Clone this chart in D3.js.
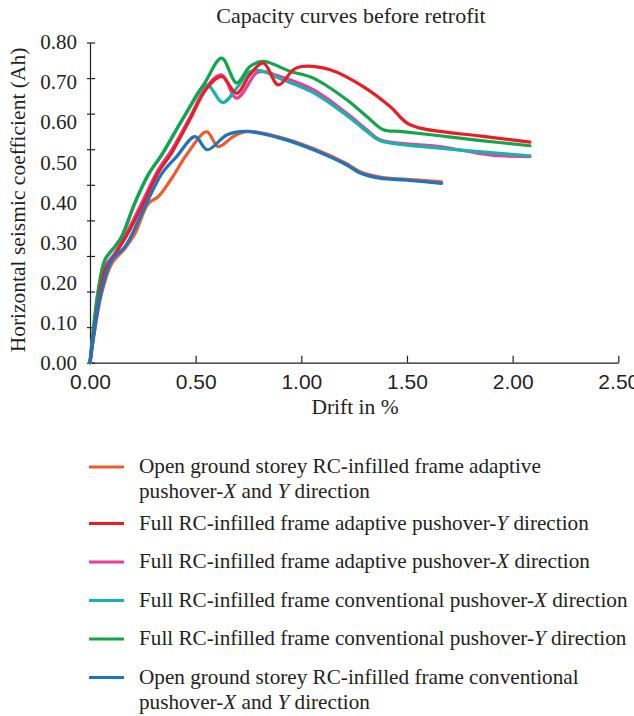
<!DOCTYPE html>
<html>
<head>
<meta charset="utf-8">
<script src="https://cdn.jsdelivr.net/npm/d3@7"></script>
<style>
  body { margin: 0; background: #fff; }
  svg { display: block; font-family: "Liberation Serif", "DejaVu Serif", serif; fill: #231f20; }
  .axis path, .axis line { stroke: #231f20; stroke-width: 1.2; }
  .curve { fill: none; stroke-width: 3.2; stroke-linecap: round; stroke-linejoin: round; }
</style>
</head>
<body>
<svg width="634" height="716"></svg>
<script>
// capacity curves, [drift %, Ah]

var openAdaptive = [
  [0, 0], [0.055, 0.173], [0.103, 0.248], [0.166, 0.286], [0.213, 0.323], [0.276, 0.398],
  [0.323, 0.415], [0.387, 0.461], [0.458, 0.52], [0.552, 0.577], [0.607, 0.54], [0.678, 0.565],
  [0.742, 0.578], [0.899, 0.563], [1.057, 0.535], [1.215, 0.497], [1.278, 0.477], [1.372, 0.464],
  [1.5, 0.458], [1.664, 0.452]
];
var fullAdaptiveY = [
  [0, 0], [0.039, 0.15], [0.071, 0.232], [0.118, 0.27], [0.181, 0.325], [0.245, 0.39],
  [0.323, 0.475], [0.387, 0.525], [0.47, 0.605], [0.552, 0.685], [0.623, 0.715], [0.694, 0.673],
  [0.757, 0.72], [0.82, 0.749], [0.891, 0.694], [0.962, 0.732], [1.0, 0.74], [1.136, 0.732],
  [1.293, 0.69], [1.42, 0.64], [1.499, 0.599], [1.562, 0.586], [1.656, 0.578], [1.85, 0.566],
  [2.082, 0.551]
];
var fullAdaptiveX = [
  [0, 0], [0.039, 0.157], [0.071, 0.24], [0.118, 0.274], [0.181, 0.332], [0.245, 0.399],
  [0.323, 0.482], [0.387, 0.532], [0.47, 0.61], [0.552, 0.69], [0.623, 0.719], [0.694, 0.661],
  [0.789, 0.725], [0.82, 0.727], [0.899, 0.715], [1.057, 0.682], [1.215, 0.623], [1.31, 0.582],
  [1.372, 0.557], [1.656, 0.54], [1.893, 0.519], [2.082, 0.515]
];
var fullConvX = [
  [0, 0], [0.039, 0.18], [0.071, 0.257], [0.118, 0.29], [0.15, 0.315], [0.213, 0.4],
  [0.276, 0.47], [0.34, 0.52], [0.44, 0.61], [0.552, 0.694], [0.628, 0.65], [0.7, 0.69],
  [0.757, 0.727], [0.805, 0.73], [0.899, 0.71], [1.057, 0.675], [1.215, 0.618], [1.31, 0.578],
  [1.372, 0.555], [1.656, 0.536], [1.893, 0.525], [2.082, 0.517]
];
var fullConvY = [
  [0, 0], [0.039, 0.18], [0.071, 0.257], [0.118, 0.29], [0.15, 0.315], [0.213, 0.4],
  [0.276, 0.47], [0.34, 0.52], [0.44, 0.61], [0.544, 0.7], [0.623, 0.761], [0.694, 0.699],
  [0.757, 0.74], [0.82, 0.753], [0.946, 0.728], [1.057, 0.711], [1.215, 0.657], [1.31, 0.615],
  [1.388, 0.582], [1.467, 0.578], [1.656, 0.567], [1.85, 0.555], [2.082, 0.542]
];
var openConv = [
  [0, 0], [0.055, 0.182], [0.103, 0.257], [0.166, 0.29], [0.26, 0.39], [0.339, 0.472],
  [0.41, 0.515], [0.497, 0.565], [0.555, 0.532], [0.647, 0.569], [0.733, 0.578], [0.899, 0.561],
  [1.057, 0.532], [1.215, 0.494], [1.278, 0.474], [1.372, 0.461], [1.5, 0.456], [1.664, 0.448]
];

// legend order; *X* marks italic, | marks a line break
var seriesNames = [
  "Open ground storey RC-infilled frame adaptive|pushover-*X* and *Y* direction",
  "Full RC-infilled frame adaptive pushover-*Y* direction",
  "Full RC-infilled frame adaptive pushover-*X* direction",
  "Full RC-infilled frame conventional pushover-*X* direction",
  "Full RC-infilled frame conventional pushover-*Y* direction",
  "Open ground storey RC-infilled frame conventional|pushover-*X* and *Y* direction"
];
var seriesData = [openAdaptive, fullAdaptiveY, fullAdaptiveX, fullConvX, fullConvY, openConv];
var seriesColors = ["#f15a29", "#ed1c24", "#e8409a", "#17b3ae", "#12a64b", "#1b75c0"];
var drawOrder = [0, 2, 3, 4, 1, 5];

var xTicks = [0, 0.5, 1, 1.5, 2, 2.5];
var yTicks = [0, 0.1, 0.2, 0.3, 0.4, 0.5, 0.6, 0.7, 0.8];

var svg = d3.select("svg");
var fmt = d3.format(".2f");

var x = d3.scaleLinear().domain([0, 2.5]).range([90, 618.3]);
var y = d3.scaleLinear().domain([0, 0.8]).range([362.7, 42.5]);
// the printed y tick marks are spaced in 9 steps, not 8
var yMarks = d3.scaleLinear().domain([0, 9]).range([362.7, 42.5]);

// title
svg.append("text")
  .attr("x", 351).attr("y", 23)
  .attr("text-anchor", "middle")
  .style("font-size", "22px")
  .text("Capacity curves before retrofit");

// x axis
var xAxis = svg.append("g")
  .attr("class", "axis")
  .attr("transform", "translate(0," + y(0) + ")")
  .call(d3.axisBottom(x).tickValues(xTicks).tickSizeInner(-7).tickSizeOuter(0)
    .tickPadding(11).tickFormat(fmt));
xAxis.selectAll("text").style("font-size", "21px").attr("fill", "#231f20")
  .attr("font-family", null);

// y axis: line and marks
var yAxis = svg.append("g")
  .attr("class", "axis")
  .attr("transform", "translate(" + x(0) + ",0)")
  .call(d3.axisLeft(yMarks).tickValues(d3.range(10)).tickSizeOuter(0).tickFormat(""));
yAxis.selectAll(".tick line").attr("x1", -3).attr("x2", 5);

// y labels
svg.append("g")
  .selectAll("text")
  .data(yTicks)
  .join("text")
  .attr("x", 77)
  .attr("y", function(d) { return y(d); })
  .attr("dy", "0.33em")
  .attr("text-anchor", "end")
  .style("font-size", "21px")
  .text(fmt);

// axis titles
svg.append("text")
  .attr("x", 355).attr("y", 414)
  .attr("text-anchor", "middle")
  .style("font-size", "21.5px")
  .text("Drift in %");

svg.append("text")
  .attr("transform", "translate(25,200) rotate(-90)")
  .attr("text-anchor", "middle")
  .style("font-size", "21.5px")
  .text("Horizontal seismic coefficient (Ah)");

// curves
var line = d3.line()
  .x(function(d) { return x(d[0]); })
  .y(function(d) { return y(d[1]); })
  .curve(d3.curveCatmullRom.alpha(0.5));

svg.append("g")
  .selectAll("path")
  .data(drawOrder)
  .join("path")
  .attr("class", "curve")
  .attr("stroke", function(i) { return seriesColors[i]; })
  .attr("d", function(i) { return line(seriesData[i]); });

// legend
function addRich(textEl, str) {
  str.split("*").forEach(function(part, k) {
    if (!part) return;
    var t = textEl.append("tspan").text(part);
    if (k % 2 == 1) t.style("font-style", "italic");
  });
}

var legend = svg.append("g").style("font-size", "21.2px");
var baseY = 473;
seriesNames.forEach(function(name, i) {
  var lines = name.split("|");
  legend.append("line")
    .attr("x1", 89).attr("x2", 124)
    .attr("y1", baseY - 6).attr("y2", baseY - 6)
    .attr("stroke", seriesColors[i])
    .attr("stroke-width", 3);
  lines.forEach(function(l, j) {
    var t = legend.append("text").attr("x", 139).attr("y", baseY + j * 25);
    addRich(t, l);
  });
  baseY += (lines.length - 1) * 18 + 38.5;
});
</script>
</body>
</html>
